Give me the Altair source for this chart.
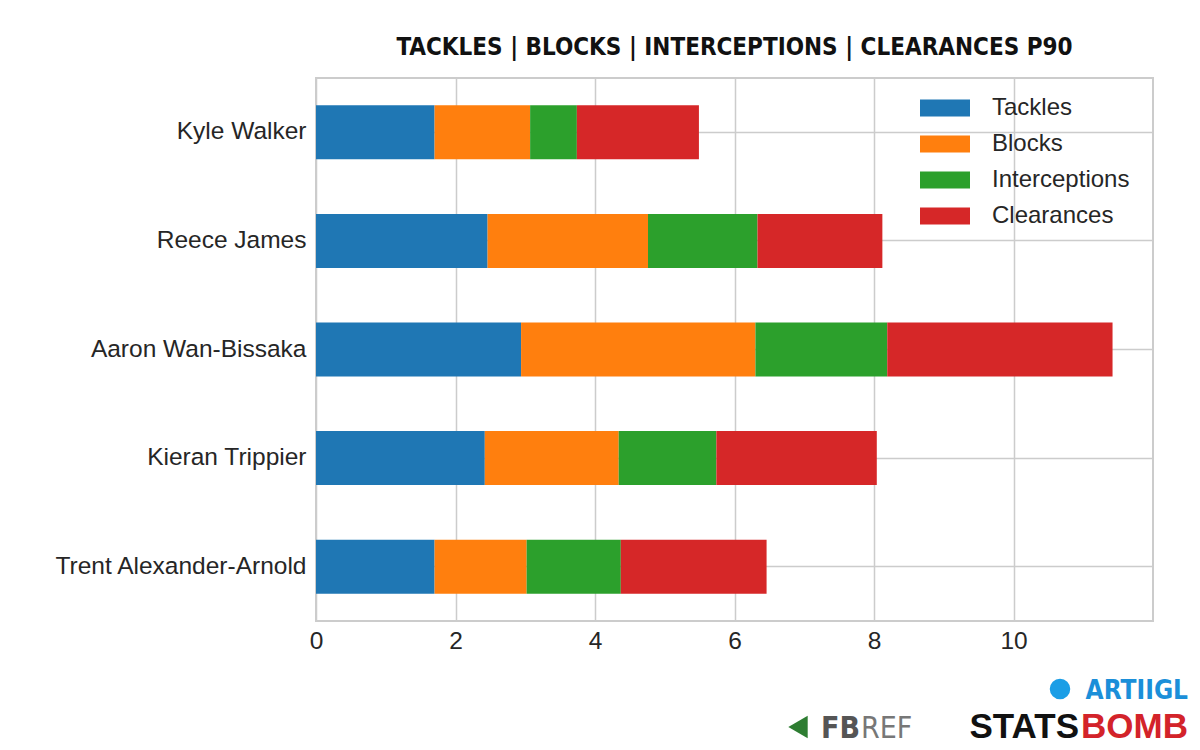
import altair as alt
import pandas as pd

players = ["Kyle Walker", "Reece James", "Aaron Wan-Bissaka", "Kieran Trippier", "Trent Alexander-Arnold"]
tackles = [1.70, 2.46, 2.94, 2.42, 1.70]
blocks = [1.37, 2.30, 3.36, 1.92, 1.32]
interceptions = [0.67, 1.57, 1.89, 1.40, 1.35]
clearances = [1.75, 1.79, 3.23, 2.30, 2.09]
metrics = ["Tackles", "Blocks", "Interceptions", "Clearances"]
colors = ["#1f77b4", "#ff7f0e", "#2ca02c", "#d62728"]
x_ticks = [0, 2, 4, 6, 8, 10]

NARROW = "'Liberation Sans Narrow', 'DejaVu Sans Condensed', 'Roboto Condensed', 'Noto Sans', sans-serif"

rows = []
for i, p in enumerate(players):
    for j, (m, vals) in enumerate(zip(metrics, [tackles, blocks, interceptions, clearances])):
        rows.append({"player": p, "metric": m, "value": vals[i], "order": j})
df = pd.DataFrame(rows)

bars = alt.Chart(df).mark_bar(size=54).encode(
    y=alt.Y("player:N", sort=players, title=None,
            scale=alt.Scale(paddingInner=0.5, paddingOuter=0.25),
            axis=alt.Axis(grid=True, labelPadding=10, labelLimit=400)),
    x=alt.X("value:Q", stack="zero", title=None,
            scale=alt.Scale(domain=[0, 12], nice=False),
            axis=alt.Axis(values=x_ticks, labelPadding=8, labelFlush=False)),
    color=alt.Color("metric:N", scale=alt.Scale(domain=metrics, range=colors),
                    legend=alt.Legend(title=None, orient="none", legendX=617, legendY=18,
                                      symbolType="M-2.5,-0.85H2.5V0.85H-2.5Z",
                                      symbolSize=400, symbolStrokeWidth=0,
                                      labelOffset=35, rowPadding=12, padding=0,
                                      labelFontSize=24, labelFont="Liberation Sans",
                                      labelColor="#262626", labelLimit=300)),
    order=alt.Order("order:Q"),
)

anno = pd.DataFrame({"k": [0]})
base = alt.Chart(anno)

handle = base.mark_text(text="ARTIIGL", font=NARROW, fontWeight="bold",
                        fontSize=26, color="#1b8fd9", align="right", baseline="alphabetic").encode(
    x=alt.value(872), y=alt.value(621))
bird = base.mark_point(filled=True, shape="circle", size=420, color="#1b9ee6", opacity=1).encode(
    x=alt.value(744), y=alt.value(611))
stats = base.mark_text(text="STATS", font="Liberation Sans", fontWeight="bold",
                       fontSize=35, color="#111111", align="right", baseline="alphabetic").encode(
    x=alt.value(763), y=alt.value(660))
bomb = base.mark_text(text="BOMB", font="Liberation Sans", fontWeight="bold",
                      fontSize=35, color="#d3232a", align="right", baseline="alphabetic").encode(
    x=alt.value(872), y=alt.value(660))
fb = base.mark_text(text="FB", font=NARROW, fontWeight="bold",
                    fontSize=30, color="#555555", align="left", baseline="alphabetic").encode(
    x=alt.value(505), y=alt.value(660))
ref = base.mark_text(text="REF", font=NARROW, fontWeight="normal",
                     fontSize=30, color="#777777", align="left", baseline="alphabetic").encode(
    x=alt.value(545), y=alt.value(660))
flag = base.mark_point(filled=True, shape="triangle-left", size=500, color="#2e7d32", opacity=1).encode(
    x=alt.value(482), y=alt.value(649))

chart = alt.layer(bars, handle, bird, stats, bomb, fb, ref, flag).properties(
    width=837, height=543,
    padding={"left": 308, "top": 70, "right": 39, "bottom": 129},
    autosize=alt.AutoSizeParams(type="none"),
    title=alt.TitleParams("TACKLES | BLOCKS | INTERCEPTIONS | CLEARANCES P90",
                          font=NARROW, fontSize=24, fontWeight="bold",
                          color="#111111", anchor="middle", offset=18),
).configure_view(stroke="#cccccc", strokeWidth=2).configure_axis(
    labelFont="Liberation Sans", labelFontSize=24.5, labelColor="#262626",
    ticks=False, domain=False, gridColor="#cccccc", gridWidth=1.5,
)

chart.save("out.html", embed_options={"renderer": "svg", "actions": False})
